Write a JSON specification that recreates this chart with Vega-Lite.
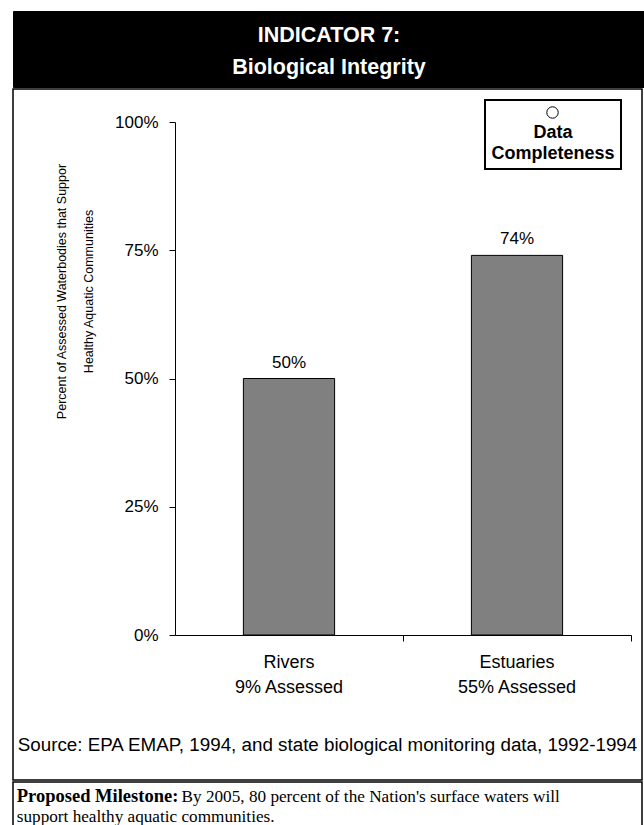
{
  "$schema": "https://vega.github.io/schema/vega-lite/v6.json",
  "background": "white",
  "padding": {"left": 12, "top": 10, "right": 0, "bottom": 0},
  "spacing": 0,
  "resolve": {"legend": {"shape": "independent"}, "scale": {"shape": "independent"}},
  "datasets": {
    "header": [{"title": "INDICATOR 7:\nBiological Integrity"}],
    "bars": [
      {"group": "Rivers\n9% Assessed", "share": 0.50},
      {"group": "Estuaries\n55% Assessed", "share": 0.74}
    ],
    "completeness": [{"indicator": "Data Completeness"}],
    "source": [{"note": "Source: EPA EMAP, 1994, and state biological monitoring data, 1992-1994"}],
    "milestone": [{"label": "Proposed Milestone:", "line1": "By 2005, 80 percent of the Nation's surface waters will", "line2": "support healthy aquatic communities."}]
  },
  "vconcat": [
    {
      "width": 632,
      "height": 76,
      "view": {"fill": "black", "stroke": "black"},
      "data": {"name": "header"},
      "mark": {"type": "text", "color": "white", "font": "Liberation Sans", "fontWeight": "bold", "fontSize": 21.5, "lineBreak": "\n", "lineHeight": 32, "baseline": "middle", "dy": -13},
      "encoding": {"text": {"field": "title", "type": "nominal"}}
    },
    {
      "width": 629,
      "height": 691,
      "view": {"stroke": "black", "strokeWidth": 1.5},
      "layer": [
        {
          "data": {"name": "bars"},
          "mark": {"type": "bar", "fill": "#808080", "stroke": "black", "strokeWidth": 1},
          "encoding": {
            "x": {
              "field": "group", "type": "nominal", "sort": null,
              "scale": {"range": [162, 618], "paddingInner": 0.6, "paddingOuter": 0.3},
              "axis": {"title": null, "labelAngle": 0, "labelExpr": "split(datum.label, '\\n')", "labelFontSize": 18, "labelLineHeight": 25, "labelPadding": 12, "tickSize": 6, "bandPosition": 1.75, "offset": -145}
            },
            "y": {
              "field": "share", "type": "quantitative",
              "scale": {"domain": [0, 1], "range": [546, 33], "nice": false},
              "axis": {"values": [0, 0.25, 0.5, 0.75, 1], "format": ".0%", "labelFontSize": 17, "labelPadding": 11, "tickSize": 6, "offset": -162,
                "title": ["Percent of Assessed Waterbodies that Suppor", "Healthy Aquatic Communities"],
                "titleFontSize": 12.5, "titleFontWeight": "normal", "titleLineHeight": 27, "titleX": -110, "titleY": 202, "titleAngle": -90, "titleAlign": "center", "titleBaseline": "alphabetic"}
            }
          }
        },
        {
          "data": {"name": "bars"},
          "mark": {"type": "text", "font": "Liberation Sans", "fontSize": 17, "baseline": "alphabetic", "dy": -11, "color": "black"},
          "encoding": {
            "x": {"field": "group", "type": "nominal", "sort": null},
            "y": {"field": "share", "type": "quantitative"},
            "text": {"field": "share", "type": "quantitative", "format": ".0%"}
          }
        },
        {
          "data": {"name": "source"},
          "mark": {"type": "text", "font": "Liberation Sans", "fontSize": 18.8, "align": "center", "baseline": "middle", "color": "black"},
          "encoding": {
            "y": {"datum": -0.214, "type": "quantitative"},
            "text": {"field": "note", "type": "nominal"}
          }
        },
        {
          "data": {"name": "completeness"},
          "mark": {"type": "point", "opacity": 0},
          "encoding": {
            "shape": {
              "field": "indicator", "type": "nominal",
              "scale": {"range": ["circle"]},
              "legend": {
                "orient": "none", "legendX": 472, "legendY": 11,
                "title": ["Data", "Completeness"], "titleOrient": "bottom", "titleAnchor": "middle", "titleAlign": "center",
                "titleFontSize": 18, "titleFontWeight": "bold", "titleFont": "Liberation Sans", "titleLineHeight": 21, "titlePadding": 4, "titleColor": "black",
                "labelExpr": "''", "labelOffset": 0,
                "symbolType": "circle", "symbolSize": 130, "symbolFillColor": "white", "symbolStrokeColor": "black", "symbolStrokeWidth": 1, "symbolOpacity": 1, "symbolOffset": 0,
                "strokeColor": "black", "fillColor": "white", "padding": 6
              }
            }
          }
        }
      ]
    },
    {
      "width": 629,
      "height": 50,
      "view": {"stroke": "black", "strokeWidth": 1.5},
      "data": {"name": "milestone"},
      "layer": [
        {
          "mark": {"type": "text", "font": "Liberation Serif", "fontWeight": "bold", "fontSize": 18.5, "align": "left", "baseline": "alphabetic", "color": "black"},
          "encoding": {
            "x": {"datum": 0.006, "type": "quantitative", "scale": {"domain": [0, 1]}, "axis": null},
            "y": {"datum": 0.40, "type": "quantitative", "scale": {"domain": [0, 1], "reverse": true}, "axis": null},
            "text": {"field": "label", "type": "nominal"}
          }
        },
        {
          "mark": {"type": "text", "font": "Liberation Serif", "fontSize": 17.2, "align": "left", "baseline": "alphabetic", "color": "black"},
          "encoding": {
            "x": {"datum": 0.268, "type": "quantitative"},
            "y": {"datum": 0.40, "type": "quantitative"},
            "text": {"field": "line1", "type": "nominal"}
          }
        },
        {
          "mark": {"type": "text", "font": "Liberation Serif", "fontSize": 17.2, "align": "left", "baseline": "alphabetic", "color": "black"},
          "encoding": {
            "x": {"datum": 0.006, "type": "quantitative"},
            "y": {"datum": 0.80, "type": "quantitative"},
            "text": {"field": "line2", "type": "nominal"}
          }
        }
      ]
    }
  ],
  "config": {
    "font": "Liberation Sans",
    "axis": {"labelFont": "Liberation Sans", "titleFont": "Liberation Sans", "labelColor": "black", "titleColor": "black", "domainColor": "black", "tickColor": "black", "grid": false},
    "legend": {"strokeWidth": 2}
  }
}
